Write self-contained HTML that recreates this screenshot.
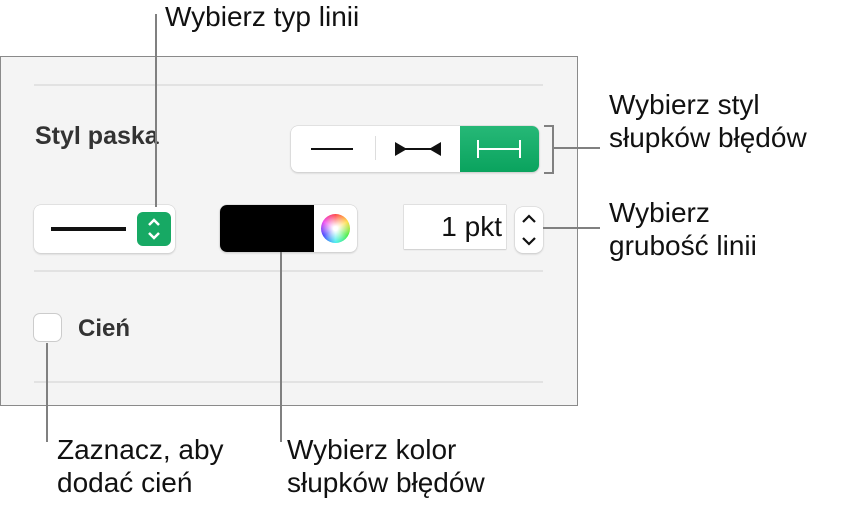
<!DOCTYPE html>
<html><head><meta charset="utf-8"><style>
body{margin:0;width:852px;height:513px;background:#fff;position:relative;overflow:hidden;font-family:"Liberation Sans",sans-serif;}
.a{position:absolute}
.t{position:absolute;font-size:28px;color:#111;line-height:33px;white-space:nowrap}
.l{position:absolute;background:#808080}
.sep{position:absolute;height:2px;background:#e2e2e2;left:34px;width:509px}
.box{position:absolute;background:#fff;border-radius:7px;box-shadow:0 0 0 0.5px #d0d0d0,0 1px 2px rgba(0,0,0,0.2)}
</style></head><body>
<div class="a" style="left:0;top:56px;width:576px;height:348px;background:#f4f4f4;border:1px solid #8a8a8a"></div>
<div class="sep" style="top:84px"></div>
<div class="sep" style="top:270px"></div>
<div class="sep" style="top:381px"></div>
<div class="t" style="left:35px;top:120px;font-size:25px;font-weight:bold;color:#333">Styl paska</div>
<div class="box" style="left:291px;top:126px;width:248px;height:46px;overflow:hidden">
 <div class="a" style="left:20px;top:22px;width:42px;height:2px;background:#111"></div>
 <div class="a" style="left:84px;top:10px;width:1px;height:24px;background:#ddd"></div>
 <svg class="a" style="left:104px;top:15px" width="46" height="16"><polygon points="0,1 12,8 0,15" fill="#111"/><polygon points="46,1 34,8 46,15" fill="#111"/><rect x="0" y="7" width="46" height="2" fill="#111"/></svg>
 <div class="a" style="left:169px;top:0;width:79px;height:46px;background:linear-gradient(#26b877,#0aa35e)"></div>
 <svg class="a" style="left:186px;top:14px" width="44" height="18"><rect x="0" y="0" width="2" height="18" fill="#fff"/><rect x="42" y="0" width="2" height="18" fill="#fff"/><rect x="0" y="8" width="44" height="2" fill="#fff"/></svg>
</div>
<div class="box" style="left:34px;top:205px;width:141px;height:48px">
 <div class="a" style="left:17px;top:22px;width:75px;height:4px;background:#111"></div>
 <div class="a" style="left:103px;top:7px;width:34px;height:34px;border-radius:6px;background:#17a964"></div>
 <svg class="a" style="left:110px;top:11px" width="20" height="26"><polyline points="5,9 10,4 15,9" fill="none" stroke="#fff" stroke-width="2.5"/><polyline points="5,17 10,22 15,17" fill="none" stroke="#fff" stroke-width="2.5"/></svg>
</div>
<div class="box" style="left:220px;top:205px;width:137px;height:47px;overflow:hidden">
 <div class="a" style="left:0;top:0;width:94px;height:47px;background:#000"></div>
 <div class="a" style="left:101px;top:9px;width:29px;height:29px;border-radius:50%;background:conic-gradient(#f44,#fd4,#4e4,#4ee,#44f,#e4e,#f44)"></div>
 <div class="a" style="left:101px;top:9px;width:29px;height:29px;border-radius:50%;background:radial-gradient(#fff 10%,rgba(255,255,255,0) 70%)"></div>
</div>
<div class="a" style="left:404px;top:205px;width:102px;height:44px;background:#fff;box-shadow:0 0 0 0.5px #ccc,0 1px 1px rgba(0,0,0,0.15)"></div>
<div class="t" style="left:404px;top:210px;width:98px;text-align:right;font-size:28px">1 pkt</div>
<div class="box" style="left:515px;top:207px;width:28px;height:46px;border-radius:8px">
 <svg class="a" style="left:5px;top:6px" width="18" height="34"><polyline points="3,9 9,3 15,9" fill="none" stroke="#111" stroke-width="2.2"/><polyline points="3,25 9,31 15,25" fill="none" stroke="#111" stroke-width="2.2"/></svg>
</div>
<div class="a" style="left:34px;top:314px;width:27px;height:27px;border-radius:6px;background:#fff;box-shadow:0 0 0 1px #ccc"></div>
<div class="t" style="left:78px;top:312px;font-size:24px;font-weight:bold;color:#333">Cień</div>
<div class="l" style="left:155px;top:14px;width:2px;height:193px"></div>
<div class="l" style="left:280px;top:252px;width:2px;height:190px"></div>
<div class="l" style="left:46px;top:343px;width:2px;height:99px"></div>
<div class="l" style="left:543px;top:227px;width:57px;height:2px"></div>
<div class="a" style="left:544px;top:125px;width:8px;height:45px;border:2px solid #808080;border-left:none"></div>
<div class="l" style="left:554px;top:147px;width:46px;height:2px"></div>
<div class="t" style="left:165px;top:0px">Wybierz typ linii</div>
<div class="t" style="left:609px;top:88px">Wybierz styl<br>słupków błędów</div>
<div class="t" style="left:609px;top:196px">Wybierz<br>grubość linii</div>
<div class="t" style="left:57px;top:433px">Zaznacz, aby<br>dodać cień</div>
<div class="t" style="left:287px;top:433px">Wybierz kolor<br>słupków błędów</div>
</body></html>
